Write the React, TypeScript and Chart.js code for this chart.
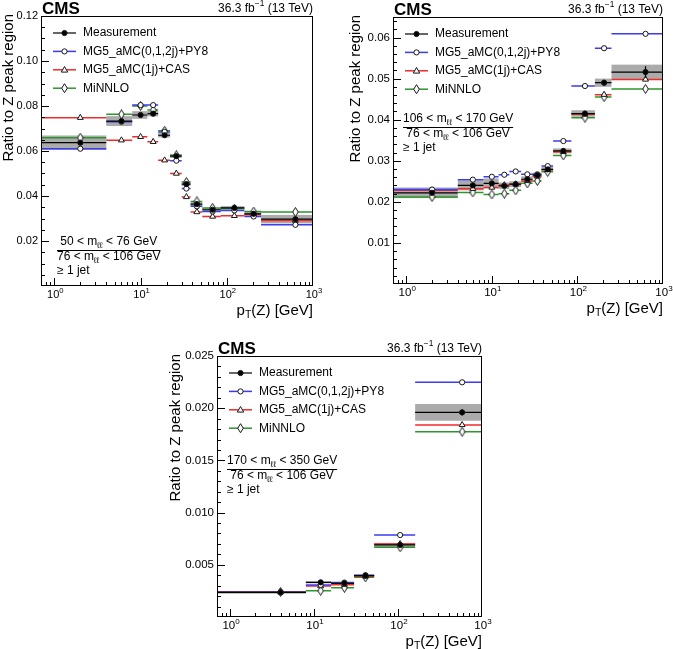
import React, { useEffect, useRef } from "react";
import { Chart, registerables } from "chart.js";

Chart.register(...registerables);

const FONT = "'Liberation Sans', Arial, Helvetica, sans-serif";

// ---------------- data ----------------
const X_MIN = 0.7;
const X_MAX = 1000;

const seriesNames = ["Measurement", "MG5_aMC(0,1,2j)+PY8", "MG5_aMC(1j)+CAS", "MiNNLO"];

// pT(Z) bins [GeV] for the two upper panels
const binLowTop = [0, 4, 8, 12, 16, 22, 30, 38, 52, 85, 160, 250];
const binHighTop = [4, 8, 12, 16, 22, 30, 38, 52, 85, 160, 250, 1000];
const binCenterTop = [2, 6, 10, 14, 19, 26, 34, 45, 68.5, 122.5, 205, 625];

// pT(Z) bins [GeV] for the lower panel
const binLowBottom = [0, 8, 16, 30, 52, 160];
const binHighBottom = [8, 16, 30, 52, 160, 1000];
const binCenterBottom = [4, 12, 23, 41, 106, 580];

// Panel 1: 50 < mll < 76 GeV
const meas50 = [0.0637, 0.0733, 0.076, 0.0766, 0.067, 0.0577, 0.0453, 0.0364, 0.0339, 0.0347, 0.0321, 0.0297];
const measBand50 = [0.0032, 0.0022, 0.0017, 0.0012, 0.001, 0.0008, 0.0008, 0.0008, 0.0007, 0.0008, 0.0009, 0.0019];
const measErr50 = [0.001, 0.001, 0.0007, 0.0007, 0.0006, 0.0005, 0.0005, 0.0005, 0.0004, 0.0004, 0.0005, 0.0008];
const mg5py8_50 = [0.061, 0.073, 0.0804, 0.0804, 0.0685, 0.0557, 0.0433, 0.0354, 0.0331, 0.0336, 0.0309, 0.0272];
const mg5cas_50 = [0.0748, 0.0648, 0.0663, 0.0641, 0.0559, 0.05, 0.0396, 0.0329, 0.0309, 0.0312, 0.0318, 0.0291];
const minnlo_50 = [0.0659, 0.0763, 0.08, 0.0782, 0.069, 0.0581, 0.0462, 0.0376, 0.0347, 0.0344, 0.0331, 0.0329];

// Panel 2: 106 < mll < 170 GeV
const meas106 = [0.0222, 0.024, 0.0245, 0.0239, 0.0243, 0.0255, 0.0265, 0.0279, 0.0324, 0.0415, 0.049, 0.0516];
const measBand106 = [0.0013, 0.0012, 0.0012, 0.0008, 0.0007, 0.0007, 0.0006, 0.0006, 0.0006, 0.0008, 0.001, 0.0018];
const measErr106 = [0.0004, 0.0005, 0.0005, 0.0004, 0.0004, 0.0004, 0.0004, 0.0004, 0.0004, 0.0005, 0.0007, 0.0014];
const mg5py8_106 = [0.023, 0.0254, 0.0261, 0.0266, 0.0274, 0.0267, 0.0267, 0.0287, 0.0348, 0.0482, 0.0574, 0.0609];
const mg5cas_106 = [0.0228, 0.0232, 0.0235, 0.0241, 0.0243, 0.0251, 0.0262, 0.0278, 0.0322, 0.0413, 0.0461, 0.0498];
const minnlo_106 = [0.0212, 0.0223, 0.0218, 0.022, 0.0228, 0.0245, 0.0251, 0.0273, 0.0313, 0.0405, 0.0455, 0.0475];

// Panel 3: 170 < mll < 350 GeV
const meas170 = [0.00236, 0.00332, 0.00323, 0.00396, 0.0069, 0.0196];
const measBand170 = [0.00013, 0.0001, 0.0001, 0.0001, 0.0002, 0.0008];
const measErr170 = [0.00006, 0.00008, 0.00008, 0.00008, 0.00012, 0.0003];
const mg5py8_170 = [0.00238, 0.00307, 0.0033, 0.004, 0.00785, 0.02248];
const mg5cas_170 = [0.00239, 0.00297, 0.0031, 0.0039, 0.007, 0.0184];
const minnlo_170 = [0.0024, 0.00252, 0.0028, 0.0038, 0.00668, 0.01775];

// y-axis tick settings
const yTicks1 = { max: 0.12, step: 0.02, minor: 0.005, dec: 2 };
const yTicks2 = { max: 0.065, step: 0.01, minor: 0.002, dec: 2 };
const yTicks3 = { max: 0.025, step: 0.005, minor: 0.001, dec: 3 };
const xDecades = [0, 1, 2, 3];

// ---------------- style ----------------
const BLUE = "#3b3bf2";
const RED = "#f22a2a";
const GREEN = "#2c962c";
const BAND = "#ababab";
const MARK = "#161616";

type Seg = { t: string; sub?: boolean; sup?: boolean };

function drawRich(ctx: CanvasRenderingContext2D, segs: Seg[], x: number, y: number, size: number, align: "left" | "right" | "center", measureOnly = false) {
  const ws = segs.map((s) => {
    ctx.font = `${s.sub || s.sup ? size * 0.7 : size}px ${FONT}`;
    return ctx.measureText(s.t).width;
  });
  const total = ws.reduce((a, b) => a + b, 0);
  if (measureOnly) return total;
  let cx = align === "left" ? x : align === "right" ? x - total : x - total / 2;
  ctx.textBaseline = "middle";
  ctx.textAlign = "left";
  segs.forEach((s, i) => {
    ctx.font = `${s.sub || s.sup ? size * 0.7 : size}px ${FONT}`;
    const dy = s.sub ? size * 0.28 : s.sup ? -size * 0.38 : 0;
    ctx.fillText(s.t, cx, y + dy);
    cx += ws[i];
  });
  return total;
}

function diamondImage() {
  const c = document.createElement("canvas");
  c.width = 7;
  c.height = 10;
  const g = c.getContext("2d")!;
  g.beginPath();
  g.moveTo(3.5, 0.5);
  g.lineTo(6.3, 5);
  g.lineTo(3.5, 9.5);
  g.lineTo(0.7, 5);
  g.closePath();
  g.fillStyle = "#fff";
  g.fill();
  g.strokeStyle = MARK;
  g.lineWidth = 1;
  g.stroke();
  return c;
}

function drawMarker(ctx: CanvasRenderingContext2D, kind: string, x: number, y: number) {
  ctx.save();
  ctx.lineWidth = 1;
  ctx.strokeStyle = MARK;
  ctx.fillStyle = kind === "meas" ? "#000" : "#fff";
  ctx.beginPath();
  if (kind === "meas" || kind === "circle") {
    ctx.arc(x, y, 2.6, 0, Math.PI * 2);
  } else if (kind === "triangle") {
    ctx.moveTo(x, y - 3.3);
    ctx.lineTo(x + 3.2, y + 2.3);
    ctx.lineTo(x - 3.2, y + 2.3);
    ctx.closePath();
  } else {
    ctx.moveTo(x, y - 4.5);
    ctx.lineTo(x + 2.8, y);
    ctx.lineTo(x, y + 4.5);
    ctx.lineTo(x - 2.8, y);
    ctx.closePath();
  }
  ctx.fill();
  ctx.stroke();
  ctx.restore();
}

type Spec = {
  id: string;
  left: number;
  top: number;
  W: number;
  H: number;
  area: { l: number; t: number; r: number; b: number };
  yt: { max: number; step: number; minor: number; dec: number };
  tickSize: number;
  yTitleX: number;
  lo: number[];
  hi: number[];
  ctr: number[];
  meas: number[];
  band: number[];
  err: number[];
  mg: number[];
  cas: number[];
  nnlo: number[];
  numer: Seg[];
  textX: number;
  textY: number;
};

const denom: Seg[] = [{ t: "76 < m" }, { t: "ℓℓ", sub: true }, { t: " < 106 GeV" }];

const specs: Spec[] = [
  {
    id: "p1", left: 0, top: 0, W: 336, H: 325, area: { l: 41, t: 16, r: 313, b: 286 }, yt: yTicks1, tickSize: 11, yTitleX: 9,
    lo: binLowTop, hi: binHighTop, ctr: binCenterTop, meas: meas50, band: measBand50, err: measErr50,
    mg: mg5py8_50, cas: mg5cas_50, nnlo: minnlo_50,
    numer: [{ t: "50 < m" }, { t: "ℓℓ", sub: true }, { t: " < 76 GeV" }], textX: 57, textY: 242,
  },
  {
    id: "p2", left: 336, top: 0, W: 337, H: 325, area: { l: 57, t: 17, r: 327, b: 284 }, yt: yTicks2, tickSize: 11.5, yTitleX: 20,
    lo: binLowTop, hi: binHighTop, ctr: binCenterTop, meas: meas106, band: measBand106, err: measErr106,
    mg: mg5py8_106, cas: mg5cas_106, nnlo: minnlo_106,
    numer: [{ t: "106 < m" }, { t: "ℓℓ", sub: true }, { t: " < 170 GeV" }], textX: 67, textY: 119,
  },
  {
    id: "p3", left: 168, top: 325, W: 337, H: 324, area: { l: 49, t: 31, r: 314, b: 292 }, yt: yTicks3, tickSize: 11.5, yTitleX: 8,
    lo: binLowBottom, hi: binHighBottom, ctr: binCenterBottom, meas: meas170, band: measBand170, err: measErr170,
    mg: mg5py8_170, cas: mg5cas_170, nnlo: minnlo_170,
    numer: [{ t: "170 < m" }, { t: "ℓℓ", sub: true }, { t: " < 350 GeV" }], textX: 59, textY: 136,
  },
];

function stepData(lo: number[], hi: number[], vals: number[]) {
  const out: { x: number; y: number | null }[] = [];
  vals.forEach((v, i) => {
    out.push({ x: Math.max(lo[i], X_MIN), y: v });
    out.push({ x: hi[i], y: v });
    out.push({ x: hi[i], y: null });
  });
  return out;
}

function errData(ctr: number[], vals: number[], err: number[]) {
  const out: { x: number; y: number | null }[] = [];
  vals.forEach((v, i) => {
    out.push({ x: ctr[i], y: v - err[i] });
    out.push({ x: ctr[i], y: v + err[i] });
    out.push({ x: ctr[i], y: null });
  });
  return out;
}

function pointData(ctr: number[], vals: number[]) {
  return vals.map((v, i) => ({ x: ctr[i], y: v }));
}

function makeConfig(s: Spec): any {
  const a = s.area;
  const diamond = diamondImage();
  const lineDs = (label: string, data: any[], color: string, width: number, order: number) => ({
    type: "line", label, data, borderColor: color, borderWidth: width, pointRadius: 0, spanGaps: false, fill: false, tension: 0, order,
  });
  const markDs = (label: string, data: any[], style: any, radius: number, bg: string, order: number) => ({
    type: "line", label, data, showLine: false, pointStyle: style, pointRadius: radius, pointBackgroundColor: bg,
    pointBorderColor: MARK, pointBorderWidth: 1, order,
  });

  const datasets = [
    markDs(seriesNames[0], pointData(s.ctr, s.meas), "circle", 2.6, "#000", 0),
    lineDs(seriesNames[0] + " stat", errData(s.ctr, s.meas, s.err), "#000", 1.2, 1),
    markDs(seriesNames[1], pointData(s.ctr, s.mg), "circle", 2.6, "#fff", 2),
    markDs(seriesNames[2], pointData(s.ctr, s.cas), "triangle", 3.4, "#fff", 3),
    markDs(seriesNames[3], pointData(s.ctr, s.nnlo), diamond, 4, "#fff", 4),
    lineDs(seriesNames[0] + " bins", stepData(s.lo, s.hi, s.meas), "#000", 1.2, 5),
    lineDs(seriesNames[1] + " bins", stepData(s.lo, s.hi, s.mg), BLUE, 1.5, 6),
    lineDs(seriesNames[2] + " bins", stepData(s.lo, s.hi, s.cas), RED, 1.5, 7),
    lineDs(seriesNames[3] + " bins", stepData(s.lo, s.hi, s.nnlo), GREEN, 1.5, 8),
  ];

  const deco = {
    id: "deco_" + s.id,
    beforeDatasetsDraw(chart: any) {
      const { ctx, chartArea: ca, scales } = chart;
      const x = scales.x, y = scales.y;
      ctx.save();
      ctx.beginPath();
      ctx.rect(ca.left, ca.top, ca.right - ca.left, ca.bottom - ca.top);
      ctx.clip();
      ctx.fillStyle = BAND;
      s.meas.forEach((v, i) => {
        const x0 = x.getPixelForValue(Math.max(s.lo[i], X_MIN));
        const x1 = x.getPixelForValue(s.hi[i]);
        const y0 = y.getPixelForValue(v + s.band[i]);
        const y1 = y.getPixelForValue(v - s.band[i]);
        ctx.fillRect(x0, y0, x1 - x0, y1 - y0);
      });
      ctx.restore();
    },
    afterDraw(chart: any) {
      const { ctx, chartArea: ca, scales } = chart;
      const x = scales.x, y = scales.y;
      ctx.save();
      ctx.fillStyle = "#000";
      ctx.strokeStyle = "#000";
      ctx.lineWidth = 1;
      // frame
      ctx.strokeRect(Math.round(ca.left) + 0.5, Math.round(ca.top) + 0.5, Math.round(ca.right - ca.left) - 1, Math.round(ca.bottom - ca.top) - 1);
      // y ticks
      const nMinor = Math.round(s.yt.max / s.yt.minor);
      ctx.beginPath();
      for (let k = 1; k <= nMinor; k++) {
        const v = k * s.yt.minor;
        if (v > s.yt.max + 1e-9) break;
        const r = v / s.yt.step;
        const major = Math.abs(r - Math.round(r)) < 1e-6;
        const py = Math.round(y.getPixelForValue(v)) + 0.5;
        ctx.moveTo(ca.left, py);
        ctx.lineTo(ca.left + (major ? 8 : 4), py);
      }
      // x ticks
      for (let d = -1; d <= 2; d++) {
        for (let k = 1; k <= 9; k++) {
          const v = k * Math.pow(10, d);
          if (v < X_MIN - 1e-9 || v > X_MAX + 1e-9) continue;
          const px = Math.round(x.getPixelForValue(v)) + 0.5;
          ctx.moveTo(px, ca.bottom);
          ctx.lineTo(px, ca.bottom - (k === 1 ? 8 : 4));
        }
      }
      ctx.stroke();
      // x tick labels 10^n
      xDecades.forEach((p) => {
        const px = x.getPixelForValue(Math.pow(10, p));
        const w = drawRich(ctx, [{ t: "10" }, { t: String(p), sup: true }], 0, 0, s.tickSize, "left", true);
        drawRich(ctx, [{ t: "10" }, { t: String(p), sup: true }], px - w / 2 + 1, ca.bottom + 9, s.tickSize, "left");
      });
      // axis titles
      drawRich(ctx, [{ t: "p" }, { t: "T", sub: true }, { t: "(Z) [GeV]" }], ca.right, ca.bottom + 25, 15, "right");
      ctx.save();
      ctx.translate(s.yTitleX, ca.top - 2);
      ctx.rotate(-Math.PI / 2);
      ctx.font = `15px ${FONT}`;
      ctx.textAlign = "right";
      ctx.textBaseline = "middle";
      ctx.fillText("Ratio to Z peak region", 0, 0);
      ctx.restore();
      // CMS label
      ctx.font = `bold 17px ${FONT}`;
      ctx.textAlign = "left";
      ctx.textBaseline = "alphabetic";
      ctx.fillText("CMS", ca.left + 1, ca.top - 2.5);
      // luminosity
      drawRich(ctx, [{ t: "36.3 fb" }, { t: "−1", sup: true }, { t: " (13 TeV)" }], ca.right, ca.top - 7.5, 12, "right");
      // legend
      const kinds = ["meas", "circle", "triangle", "diamond"];
      const cols = ["#000", BLUE, RED, GREEN];
      seriesNames.forEach((name, i) => {
        const ly = ca.top + 17 + i * 18.4;
        ctx.strokeStyle = cols[i];
        ctx.lineWidth = i === 0 ? 1.2 : 1.5;
        ctx.beginPath();
        ctx.moveTo(ca.left + 12, ly);
        ctx.lineTo(ca.left + 35, ly);
        ctx.stroke();
        drawMarker(ctx, kinds[i], ca.left + 23.5, ly);
        ctx.fillStyle = "#000";
        drawRich(ctx, [{ t: name }], ca.left + 42, ly, 12, "left");
      });
      // mass-range text
      ctx.fillStyle = "#000";
      const wn = drawRich(ctx, s.numer, 0, 0, 12, "left", true);
      const wd = drawRich(ctx, denom, 0, 0, 12, "left", true);
      const wf = Math.max(wn, wd);
      drawRich(ctx, s.numer, s.textX + wf / 2, s.textY, 12, "center");
      ctx.strokeStyle = "#000";
      ctx.lineWidth = 1;
      ctx.beginPath();
      ctx.moveTo(s.textX, Math.round(s.textY + 8) + 0.5);
      ctx.lineTo(s.textX + wf, Math.round(s.textY + 8) + 0.5);
      ctx.stroke();
      drawRich(ctx, denom, s.textX + wf / 2, s.textY + 15, 12, "center");
      drawRich(ctx, [{ t: "≥ 1 jet" }], s.textX, s.textY + 29, 12, "left");
      ctx.restore();
    },
  };

  return {
    type: "line",
    data: { datasets },
    options: {
      responsive: false,
      maintainAspectRatio: false,
      animation: false,
      devicePixelRatio: 1,
      events: [],
      layout: { padding: { left: 0, top: a.t, right: s.W - a.r, bottom: 0 } },
      plugins: { legend: { display: false }, tooltip: { enabled: false } },
      scales: {
        x: {
          type: "logarithmic",
          min: X_MIN,
          max: X_MAX,
          grid: { display: false, drawTicks: false },
          border: { display: false },
          ticks: { display: false },
          afterFit: (sc: any) => {
            sc.height = s.H - a.b;
          },
        },
        y: {
          type: "linear",
          min: 0,
          max: s.yt.max,
          grid: { display: false, drawTicks: false },
          border: { display: false },
          ticks: {
            stepSize: s.yt.step,
            autoSkip: false,
            padding: 3,
            color: "#000",
            font: { family: FONT, size: s.tickSize },
            callback: (v: any) => {
              const n = Number(v);
              const r = n / s.yt.step;
              if (n <= 1e-12 || Math.abs(r - Math.round(r)) > 1e-6) return "";
              return n.toFixed(s.yt.dec);
            },
          },
          afterFit: (sc: any) => {
            sc.width = a.l;
          },
        },
      },
    },
    plugins: [deco],
  };
}

function Panel({ spec }: { spec: Spec }) {
  const ref = useRef<HTMLCanvasElement>(null);
  useEffect(() => {
    const chart = new Chart(ref.current!, makeConfig(spec));
    return () => chart.destroy();
  }, [spec]);
  return (
    <canvas
      ref={ref}
      width={spec.W}
      height={spec.H}
      style={{ position: "absolute", left: spec.left, top: spec.top, width: spec.W, height: spec.H }}
    />
  );
}

export default function App() {
  return (
    <div style={{ position: "fixed", left: 0, top: 0, width: 673, height: 649, background: "#fff", overflow: "hidden" }}>
      {specs.map((s) => (
        <Panel key={s.id} spec={s} />
      ))}
    </div>
  );
}
